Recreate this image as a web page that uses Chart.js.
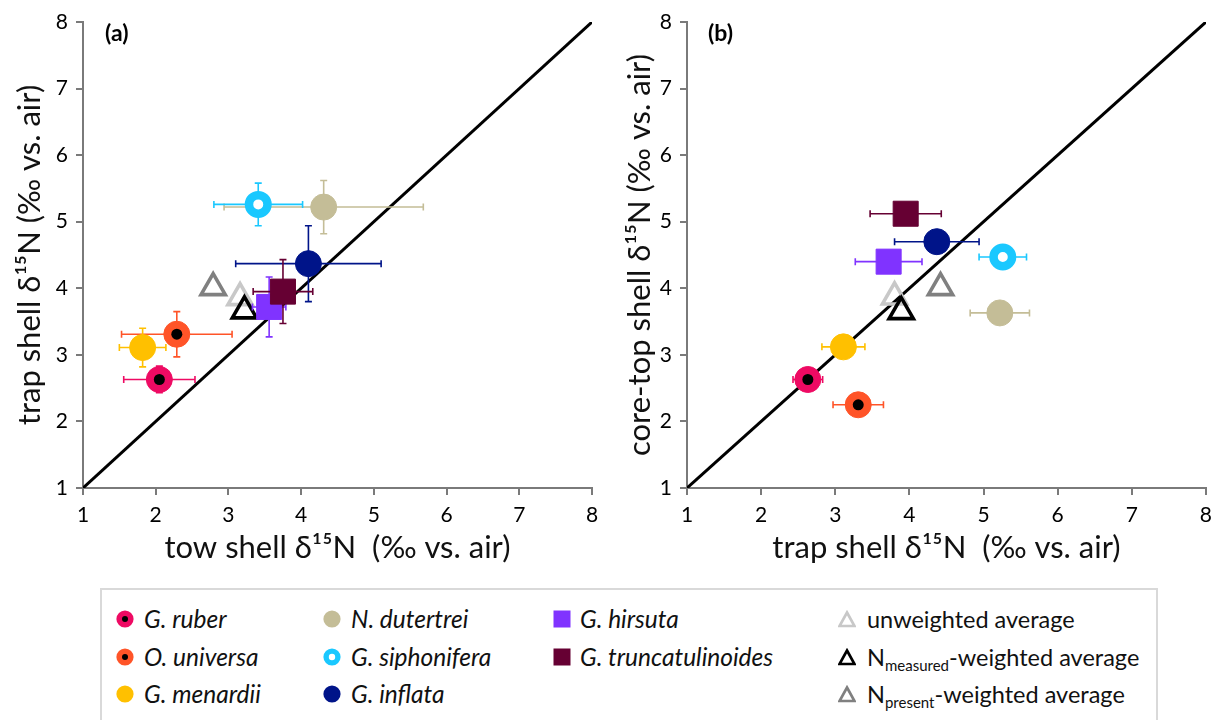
<!DOCTYPE html>
<html>
<head>
<meta charset="utf-8">
<script src="https://cdn.jsdelivr.net/npm/chart.js@4"></script>
<style>
    body { margin: 0; background: #fff; }
    #wrap { position: relative; width: 1220px; height: 720px; overflow: hidden; background: #fff; font-family: Lato, 'Open Sans', sans-serif; }
    canvas { position: absolute; top: 0; }
    #chartA { left: 0; }
    #chartB { left: 610px; }
    .panel { position: absolute; top: 18px; font-weight: bold; font-size: 23px; line-height: 28px; color: #000; }
    #legendBox { position: absolute; left: 100px; top: 588px; width: 1058px; height: 160px; border: 2px solid #d9d9d9; box-sizing: border-box; }
    .mk { position: absolute; width: 18px; height: 18px; }
    .txt { position: absolute; height: 34px; line-height: 34px; color: #111; white-space: nowrap; }
    .sp { font-style: italic; font-size: 24.5px; }
    .av { font-size: 23.5px; }
    .txt sub { font-size: 15px; vertical-align: -5px; line-height: 0; }
</style>
</head>
<body>
<div id="wrap">
    <canvas id="chartA" width="610" height="580"></canvas>
    <canvas id="chartB" width="610" height="580"></canvas>
    <div class="panel" style="left:105px">(a)</div>
    <div class="panel" style="left:708px">(b)</div>
    <div id="legendBox"></div>
    <div id="legend"></div>
</div>
<script>
// Foraminifera shell d15N comparison - tow vs trap (a) and trap vs core-top (b)

const species = ['G. ruber', 'O. universa', 'G. menardii', 'N. dutertrei', 'G. siphonifera', 'G. inflata', 'G. hirsuta', 'G. truncatulinoides'];
const speciesColor = ['#EE0A63', '#FF5428', '#FFC000', '#C4BD97', '#1AC8FF', '#001489', '#8033FF', '#660033'];
const speciesMarker = ['dot', 'dot', 'circle', 'circle', 'ring', 'circle', 'square', 'square'];

// tow shell d15N (panel a, x) and its error
const towN = [2.05, 2.29, 1.82, 4.31, 3.41, 4.10, 3.56, 3.75];
const towErr = [0.49, 0.76, 0.32, 1.37, 0.61, 1.00, 0.23, 0.41];
// trap shell d15N (panel a, y / panel b, x) and its error
const trapN = [2.63, 3.31, 3.11, 5.22, 5.26, 4.37, 3.72, 3.95];
const trapErr = [0.20, 0.34, 0.29, 0.40, 0.32, 0.57, 0.45, 0.48];
// core-top shell d15N (panel b, y)
const coreN = [2.63, 2.25, 3.12, 3.63, 4.47, 4.70, 4.40, 5.12];

// averages: unweighted, N measured-weighted, N present-weighted
const avgLabels = ['unweighted average', 'N<sub>measured</sub>-weighted average', 'N<sub>present</sub>-weighted average'];
const avgColor = ['#C8C8C8', '#000000', '#808080'];
const avgTowA = [3.16, 3.22, 2.79];
const avgTrapA = [3.86, 3.66, 4.01];
const avgTrapB = [3.80, 3.89, 4.42];
const avgCoreB = [3.87, 3.65, 4.01];

// 1:1 line
const oneToOne = [1, 8];
const axisMin = 1;
const axisMax = 8;

const FONT = "Lato, 'Open Sans', sans-serif";
const AXIS_GREY = '#7a7a7a';

// Error bar plugin - draws whiskers right before each dataset
const errorBars = {
    id: 'errorBars',
    beforeDatasetDraw(chart, args) {
        const ds = chart.data.datasets[args.index];
        if (!ds.errX && !ds.errY) return;
        const ctx = chart.ctx;
        const xs = chart.scales.x, ys = chart.scales.y;
        const cap = 3.5;
        ctx.save();
        ctx.strokeStyle = ds.errColor;
        ctx.lineWidth = 1.6;
        ds.data.forEach((p, i) => {
            const px = xs.getPixelForValue(p.x);
            const py = ys.getPixelForValue(p.y);
            ctx.beginPath();
            if (ds.errX) {
                const x0 = xs.getPixelForValue(p.x - ds.errX[i]);
                const x1 = xs.getPixelForValue(p.x + ds.errX[i]);
                ctx.moveTo(x0, py); ctx.lineTo(x1, py);
                ctx.moveTo(x0, py - cap); ctx.lineTo(x0, py + cap);
                ctx.moveTo(x1, py - cap); ctx.lineTo(x1, py + cap);
            }
            if (ds.errY) {
                const y0 = ys.getPixelForValue(p.y - ds.errY[i]);
                const y1 = ys.getPixelForValue(p.y + ds.errY[i]);
                ctx.moveTo(px, y0); ctx.lineTo(px, y1);
                ctx.moveTo(px - cap, y0); ctx.lineTo(px + cap, y0);
                ctx.moveTo(px - cap, y1); ctx.lineTo(px + cap, y1);
            }
            ctx.stroke();
        });
        ctx.restore();
    }
};

function markerStyle(kind, color) {
    if (kind === 'square') {
        return { pointStyle: 'rect', pointRadius: 17.7, backgroundColor: color, borderColor: color, pointBorderWidth: 1 };
    }
    if (kind === 'ring') {
        return { pointStyle: 'circle', pointRadius: 9.25, backgroundColor: '#fff', borderColor: color, pointBorderWidth: 8.5 };
    }
    return { pointStyle: 'circle', pointRadius: 13, backgroundColor: color, borderColor: color, pointBorderWidth: 1 };
}

function buildDatasets(xs, ys, xErr, yErr, avgX, avgY) {
    const list = [];
    list.push({
        label: '1:1',
        data: oneToOne.map(v => ({ x: v, y: v })),
        showLine: true,
        borderColor: '#000',
        borderWidth: 3,
        pointRadius: 0
    });
    // averages, N present first so N measured ends on top
    [2, 0, 1].forEach(k => {
        list.push({
            label: avgLabels[k],
            data: [{ x: avgX[k], y: avgY[k] }],
            pointStyle: 'triangle',
            pointRadius: 14,
            backgroundColor: 'rgba(0,0,0,0)',
            borderColor: avgColor[k],
            pointBorderWidth: 3.6
        });
    });
    species.forEach((name, i) => {
        list.push(Object.assign({
            label: name,
            data: [{ x: xs[i], y: ys[i] }],
            errX: xErr ? [xErr[i]] : null,
            errY: yErr ? [yErr[i]] : null,
            errColor: speciesColor[i]
        }, markerStyle(speciesMarker[i], speciesColor[i])));
    });
    // black centre dots
    species.forEach((name, i) => {
        if (speciesMarker[i] !== 'dot') return;
        list.push({
            label: name + ' centre',
            data: [{ x: xs[i], y: ys[i] }],
            pointStyle: 'circle',
            pointRadius: 5.5,
            backgroundColor: '#000',
            borderColor: '#000',
            pointBorderWidth: 0
        });
    });
    // first in list = bottom layer
    list.forEach((ds, i) => { ds.order = list.length - i; });
    return list;
}

function axisOptions(title, horizontal, size) {
    return {
        type: 'linear',
        min: axisMin,
        max: axisMax,
        ticks: { stepSize: 1, color: '#000', font: { family: FONT, size: 21 }, padding: 8 },
        grid: { drawOnChartArea: false, drawTicks: true, tickLength: 7, color: AXIS_GREY, lineWidth: 2 },
        border: { display: true, color: AXIS_GREY, width: 2 },
        title: {
            display: true,
            text: title,
            color: '#111',
            font: { family: FONT, size: 31 },
            padding: horizontal ? { top: 0, bottom: 13 } : { top: 11, bottom: 0 }
        },
        afterFit: function(scale) {
            if (horizontal) scale.height = size; else scale.width = size;
        }
    };
}

function makeChart(id, xTitle, yTitle, yWidth, rightPad, datasets) {
    const ctx = document.getElementById(id).getContext('2d');
    return new Chart(ctx, {
        type: 'scatter',
        data: { datasets: datasets },
        options: {
            responsive: false,
            animation: false,
            events: [],
            layout: { autoPadding: false, padding: { top: 22, right: rightPad, bottom: 0, left: 0 } },
            plugins: { legend: { display: false }, tooltip: { enabled: false } },
            scales: {
                x: axisOptions(xTitle, true, 92),
                y: axisOptions(yTitle, false, yWidth)
            }
        },
        plugins: [errorBars]
    });
}

makeChart('chartA', 'tow shell δ¹⁵N  (‰ vs. air)', 'trap shell δ¹⁵N (‰ vs. air)', 83, 18,
    buildDatasets(towN, trapN, towErr, trapErr, avgTowA, avgTrapA));
makeChart('chartB', 'trap shell δ¹⁵N  (‰ vs. air)', 'core-top shell δ¹⁵N (‰ vs. air)', 77, 14,
    buildDatasets(trapN, coreN, trapErr, null, avgTrapB, avgCoreB));

// Legend (HTML)
function markerSvg(kind, color) {
    const s = 18, c = 9;
    let inner = '';
    if (kind === 'circle' || kind === 'dot') inner = `<circle cx="${c}" cy="${c}" r="8.6" fill="${color}"/>`;
    if (kind === 'dot') inner += `<circle cx="${c}" cy="${c}" r="3" fill="#000"/>`;
    if (kind === 'ring') inner = `<circle cx="${c}" cy="${c}" r="5.9" fill="#fff" stroke="${color}" stroke-width="5.4"/>`;
    if (kind === 'square') inner = `<rect x="0.5" y="0.5" width="17" height="17" fill="${color}"/>`;
    if (kind === 'triangle') inner = `<polygon points="9,2.5 16.5,16 1.5,16" fill="none" stroke="${color}" stroke-width="2.7"/>`;
    return `<svg width="${s}" height="${s}">${inner}</svg>`;
}

const legendMarkerX = [125, 332, 562, 847];
const legendTextX = [144, 351, 580, 867];
const legendRowY = [619, 657, 694];
const legendSlots = [[0, 0], [0, 1], [0, 2], [1, 0], [1, 1], [1, 2], [2, 0], [2, 1]];
let html = '';
function legendEntry(col, row, marker, color, label, cls) {
    const y = legendRowY[row];
    return `<div class="mk" style="left:${legendMarkerX[col] - 9}px;top:${y - 9}px">${markerSvg(marker, color)}</div>` +
        `<div class="txt ${cls}" style="left:${legendTextX[col]}px;top:${y - 17}px">${label}</div>`;
}
species.forEach((name, i) => {
    const [c, r] = legendSlots[i];
    html += legendEntry(c, r, speciesMarker[i], speciesColor[i], name, 'sp');
});
avgLabels.forEach((label, k) => {
    html += legendEntry(3, k, 'triangle', avgColor[k], label, 'av');
});
document.getElementById('legend').innerHTML = html;
</script>
</body>
</html>
